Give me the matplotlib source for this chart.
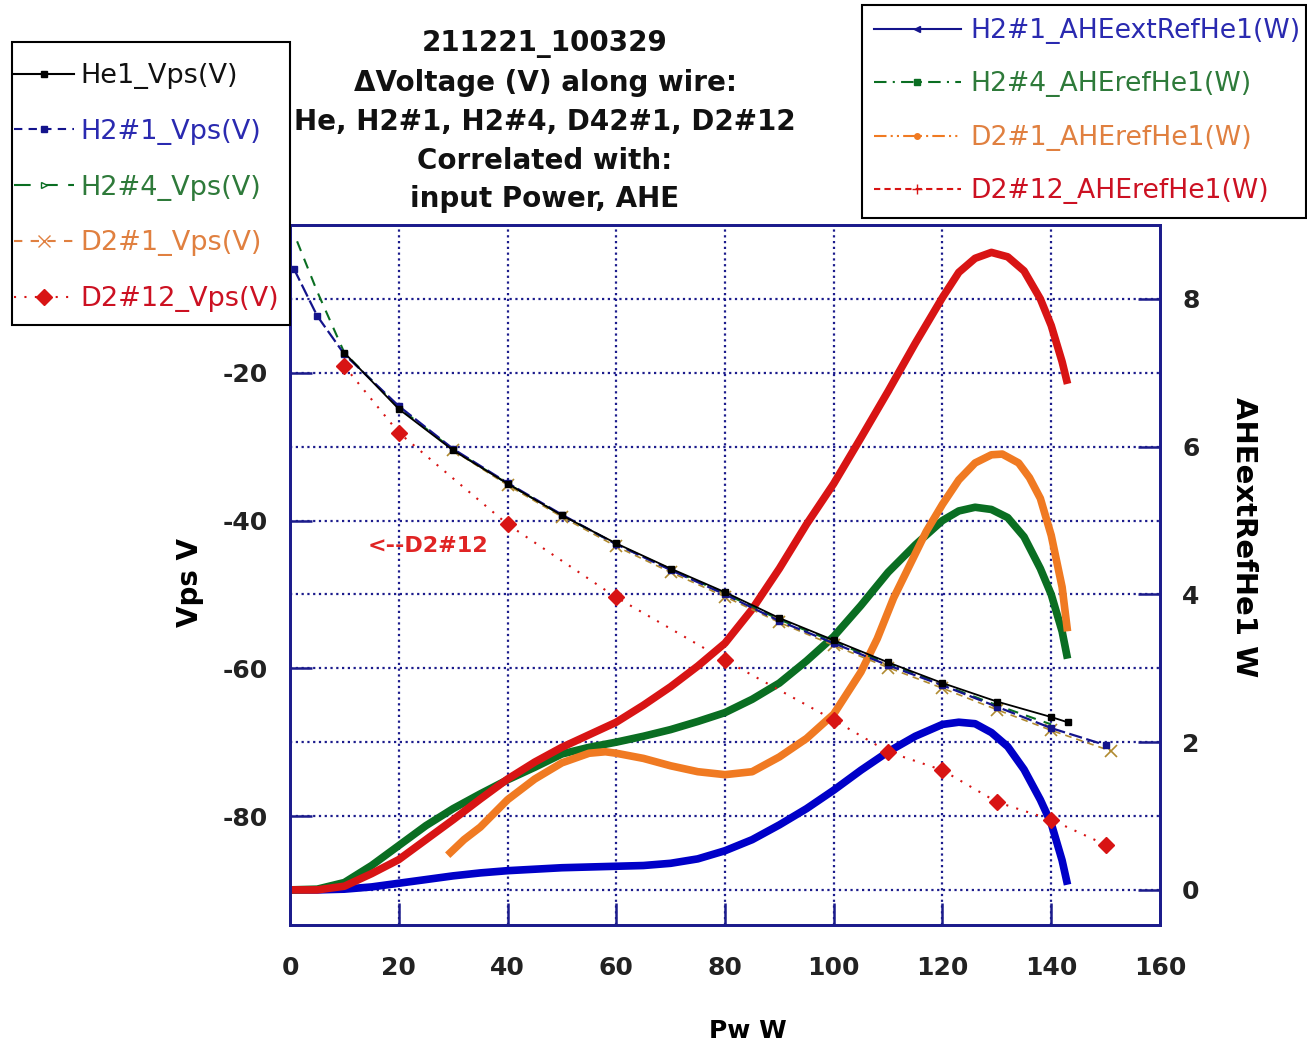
import matplotlib
matplotlib.use("Agg")
import matplotlib.pyplot as plt
from matplotlib.lines import Line2D
from matplotlib.patches import Rectangle
from matplotlib.ticker import FixedLocator

plt.rcParams["axes.unicode_minus"] = False

# ---- Vps data (left axis, V) ----
he1_x = [10, 20, 30, 40, 50, 60, 70, 80, 90, 100, 110, 120, 130, 140, 143]
he1_v = [-17.3, -24.9, -30.5, -35.0, -39.3, -43.1, -46.5, -49.7, -53.2, -56.2,
         -59.2, -62.0, -64.5, -66.6, -67.3]

h21_x = [0.7, 5, 10, 20, 30, 40, 50, 60, 70, 80, 90, 100, 110, 120, 130, 140, 150]
h21_v = [-5.9, -12.3, -17.5, -24.5, -30.3, -34.9, -39.2, -43.2, -46.7, -50.0,
         -53.6, -56.6, -59.6, -62.3, -65.2, -68.1, -70.4]

h24_x = [1.3, 5, 10, 20, 30, 40, 50, 60, 70, 80, 90, 100, 110, 120, 130, 140]
h24_v = [-2.2, -9.0, -17.3, -24.7, -30.4, -35.0, -39.3, -43.2, -46.6, -49.9,
         -53.4, -56.4, -59.4, -62.2, -65.0, -67.6]

d21_x = [30, 40, 50, 60, 70, 80, 90, 100, 110, 120, 130, 140, 151]
d21_v = [-30.5, -35.2, -39.5, -43.5, -47.0, -50.3, -53.8, -56.9, -59.9, -62.7,
         -65.6, -68.4, -71.2]

d212_x = [10, 20, 40, 60, 80, 100, 110, 120, 130, 140, 150]
d212_v = [-19.1, -28.1, -40.5, -50.4, -58.9, -67.0, -71.3, -73.8, -78.1, -80.5, -83.9]

# ---- AHE data (right axis, W) ----
ahe_h21_x = [0, 5, 10, 15, 20, 25, 30, 35, 40, 45, 50, 55, 60, 65, 70, 75, 80, 85,
             90, 95, 100, 105, 110, 115, 120, 123, 126, 129, 132, 135, 138, 140, 142, 143]
ahe_h21_w = [0, 0, 0.01, 0.04, 0.09, 0.14, 0.19, 0.23, 0.26, 0.28, 0.30, 0.31, 0.32,
             0.33, 0.36, 0.42, 0.53, 0.68, 0.88, 1.10, 1.35, 1.62, 1.87, 2.08, 2.24,
             2.27, 2.25, 2.13, 1.94, 1.63, 1.22, 0.90, 0.40, 0.07]

ahe_h24_x = [0, 5, 10, 15, 20, 25, 30, 35, 40, 45, 50, 55, 60, 65, 70, 75, 80, 85,
             90, 95, 100, 105, 110, 115, 120, 123, 126, 129, 132, 135, 138, 140, 142, 143]
ahe_h24_w = [0, 0.01, 0.10, 0.33, 0.60, 0.87, 1.10, 1.30, 1.49, 1.66, 1.84, 1.93, 2.00,
             2.08, 2.17, 2.28, 2.40, 2.58, 2.80, 3.10, 3.43, 3.85, 4.30, 4.67, 5.00,
             5.13, 5.18, 5.15, 5.04, 4.78, 4.35, 4.00, 3.50, 3.13]

ahe_d21_x = [29, 32, 35, 40, 45, 50, 55, 58, 60, 65, 70, 75, 80, 85, 90, 95, 100, 105,
             108, 111, 114, 117, 120, 123, 126, 129, 131, 134, 136, 138, 140, 142, 143]
ahe_d21_w = [0.47, 0.68, 0.85, 1.22, 1.50, 1.72, 1.85, 1.87, 1.85, 1.78, 1.68, 1.60,
             1.56, 1.60, 1.80, 2.05, 2.38, 2.95, 3.40, 3.95, 4.40, 4.85, 5.22, 5.55,
             5.78, 5.89, 5.90, 5.78, 5.58, 5.30, 4.80, 4.10, 3.50]

ahe_d212_x = [0, 5, 10, 15, 20, 25, 30, 35, 40, 45, 50, 55, 60, 65, 70, 75, 80, 85,
              90, 95, 100, 105, 110, 115, 120, 123, 126, 129, 132, 135, 138, 140, 142, 143]
ahe_d212_w = [0, 0, 0.05, 0.22, 0.41, 0.68, 0.95, 1.23, 1.50, 1.73, 1.93, 2.10, 2.27,
              2.50, 2.75, 3.03, 3.34, 3.80, 4.35, 4.95, 5.50, 6.12, 6.75, 7.40, 8.02,
              8.36, 8.55, 8.63, 8.57, 8.38, 8.00, 7.64, 7.15, 6.85]

title = ("211221_100329\n\u0394Voltage (V) along wire:\nHe, H2#1, H2#4, D42#1, D2#12\n"
         "Correlated with:\ninput Power, AHE")

navy = "#1c1c8c"
c_black = "#000000"
c_blue = "#0000c8"
c_green = "#0a6e22"
c_orange = "#f07a22"
c_red = "#d81414"

W, H = 1307, 1042
fig = plt.figure(figsize=(W / 100, H / 100), dpi=100)
ax = fig.add_axes([0.2219, 0.1123, 0.6656, 0.6717])
ax2 = ax.twinx()
ax.set_zorder(ax2.get_zorder() + 1)
ax.patch.set_visible(False)

# thick AHE curves (right axis)
ax2.plot(ahe_h21_x, ahe_h21_w, color=c_blue, lw=5.5, solid_capstyle="butt")
ax2.plot(ahe_h24_x, ahe_h24_w, color=c_green, lw=5.5, solid_capstyle="butt")
ax2.plot(ahe_d21_x, ahe_d21_w, color=c_orange, lw=5.5, solid_capstyle="butt")
ax2.plot(ahe_d212_x, ahe_d212_w, color=c_red, lw=5.5, solid_capstyle="butt")

# Vps lines (left axis)
ax.plot(d212_x, d212_v, color=c_red, ls=(0, (1, 4)), lw=1.5, marker="D", ms=8,
        mfc=c_red, mec=c_red)
ax.plot(h24_x, h24_v, color=c_green, ls=(0, (5, 4)), lw=1.5)
ax.plot(d21_x, d21_v, color="#b08a30", ls=(0, (4, 3)), lw=1.2, marker="x", ms=9, mew=1.2)
ax.plot(h21_x, h21_v, color="#14148c", ls=(0, (6, 2)), lw=1.6, marker="s", ms=4)
ax.plot(he1_x, he1_v, color=c_black, lw=1.3, marker="s", ms=4)

ax.set_xlim(0, 160)
ax.set_ylim(-94.75, 0)
ax2.set_ylim(-0.475, 9)

ax.xaxis.set_major_locator(FixedLocator([0, 20, 40, 60, 80, 100, 120, 140, 160]))
ax.yaxis.set_major_locator(FixedLocator([-80, -60, -40, -20]))
ax2.yaxis.set_major_locator(FixedLocator([0, 2, 4, 6, 8]))

# grid on the lower axes so it stays behind the curves
for x in [20, 40, 60, 80, 100, 120, 140]:
    ax2.axvline(x, color=navy, ls=(0, (1, 1.6)), lw=1.6, zorder=0)
for w in range(0, 9):
    ax2.axhline(w, color=navy, ls=(0, (1, 1.6)), lw=1.6, zorder=0)

ax.tick_params(axis="x", direction="in", length=16, width=1.8, color=navy, pad=22,
               labelsize=18, labelcolor="#222222")
ax.tick_params(axis="y", direction="in", length=16, width=1.8, color=navy, pad=16,
               labelsize=18, labelcolor="#222222")
ax2.tick_params(axis="y", which="major", direction="in", length=16, width=1.8,
                color=navy, pad=16, labelsize=18, labelcolor="#222222")
for lab in ax.get_xticklabels() + ax.get_yticklabels() + ax2.get_yticklabels():
    lab.set_fontweight("bold")

for a in (ax, ax2):
    for s in a.spines.values():
        s.set_color(navy)
        s.set_linewidth(2)

ax.set_xlabel("Pw W", fontsize=18, fontweight="bold")
ax.xaxis.set_label_coords(0.526, -0.135)
ax.set_ylabel("Vps V", fontsize=20, fontweight="bold")
ax.yaxis.set_label_coords(-0.099, 0.49)
ax2.set_ylabel("AHEextRefHe1 W", fontsize=21, fontweight="bold", rotation=-90,
               va="center")
ax2.yaxis.set_label_coords(1.097, 0.554)

ax.text(14.3, -43.5, "<--D2#12", color="#e02424", fontsize=16, fontweight="bold",
        va="center", ha="left")

fig.text(0.417, 0.971, title, ha="center", va="top", fontsize=20, fontweight="bold",
         linespacing=1.49, color="#111111")

# legend frames drawn as plain rectangles (pixel boxes of the reference)
def px_box(x0, y0, x1, y1):
    return Rectangle((x0 / W, 1 - y1 / H), (x1 - x0) / W, (y1 - y0) / H,
                     transform=fig.transFigure, facecolor="white", edgecolor="black",
                     lw=1.5, zorder=4)

fig.patches.append(px_box(12, 42, 290, 325))
fig.patches.append(px_box(862, 5, 1306, 218))

# legends
left_handles = [
    Line2D([], [], color=c_black, lw=1.5, marker="s", ms=4),
    Line2D([], [], color="#14148c", lw=1.5, ls=(0, (4, 3)), marker="s", ms=4),
    Line2D([], [], color=c_green, lw=1.5, ls=(0, (8, 5)), marker=">", ms=5, mfc="white"),
    Line2D([], [], color="#e08040", lw=1.5, ls=(0, (4, 4)), marker="x", ms=9),
    Line2D([], [], color=c_red, lw=1.5, ls=(0, (1, 4)), marker="D", ms=8),
]
left_labels = ["He1_Vps(V)", "H2#1_Vps(V)", "H2#4_Vps(V)", "D2#1_Vps(V)", "D2#12_Vps(V)"]
leg1 = fig.legend(left_handles, left_labels, loc="upper left",
                  bbox_to_anchor=(14 / W, 1 - 63 / H), fontsize=19.5, frameon=False,
                  borderpad=0, labelspacing=1.1, handlelength=2.2, handletextpad=0.25,
                  borderaxespad=0,
                  labelcolor=["#111111", "#2a2ab0", "#2e7a3a", "#e08040", "#cc1122"])

right_handles = [
    Line2D([], [], color="#14148c", lw=1.5, marker="<", ms=4),
    Line2D([], [], color=c_green, lw=1.5, ls=(0, (6, 3, 1, 3)), marker="s", ms=4),
    Line2D([], [], color=c_orange, lw=1.5, ls=(0, (6, 2, 1, 2, 1, 2)), marker="o", ms=4),
    Line2D([], [], color=c_red, lw=1.5, ls=(0, (3, 2)), marker="+", ms=7),
]
right_labels = ["H2#1_AHEextRefHe1(W)", "H2#4_AHErefHe1(W)", "D2#1_AHErefHe1(W)",
                "D2#12_AHErefHe1(W)"]
leg2 = fig.legend(right_handles, right_labels, loc="upper left",
                  bbox_to_anchor=(874 / W, 1 - 18 / H), fontsize=19.2, frameon=False,
                  borderpad=0, labelspacing=1.03, handlelength=3.25, handletextpad=0.35,
                  borderaxespad=0,
                  labelcolor=["#2a2ab0", "#2e7a3a", "#e08040", "#cc1122"])

fig.savefig("out.png", dpi=100, facecolor="white")
